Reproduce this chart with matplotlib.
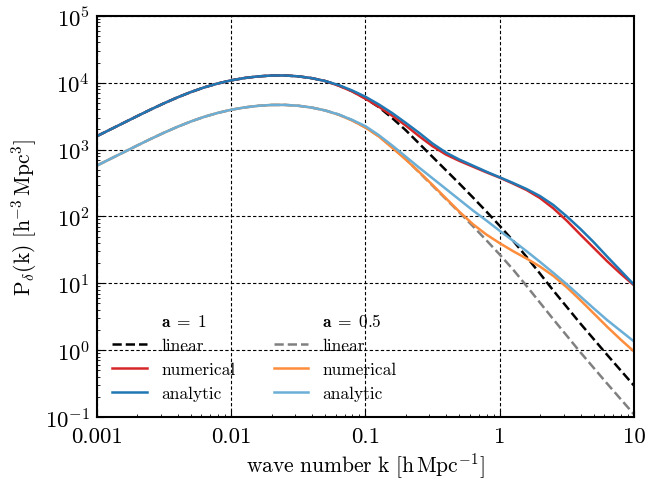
import numpy as np
import matplotlib
matplotlib.use('Agg')
import matplotlib.pyplot as plt
from matplotlib.lines import Line2D
from matplotlib.ticker import LogLocator, FixedLocator, FixedFormatter, NullFormatter

plt.rcParams.update({
    'font.family': 'serif',
    'font.serif': ['cmr10'],
    'mathtext.fontset': 'cm',
    'axes.formatter.use_mathtext': True,
    'axes.unicode_minus': False,
    'font.size': 15,
})

# log10 of wave number k (h/Mpc)
log_k = [-3.0, -2.9, -2.8, -2.7, -2.6, -2.5, -2.4, -2.3, -2.2, -2.1,
         -2.0, -1.9, -1.8, -1.7, -1.6, -1.5, -1.4, -1.3, -1.2, -1.1,
         -1.0, -0.9, -0.8, -0.7, -0.6, -0.5, -0.4, -0.3, -0.2, -0.1,
         0.0, 0.1, 0.2, 0.3, 0.4, 0.5, 0.6, 0.7, 0.8, 0.9, 1.0]

# log10 P(k), a = 1
lin_a1 = [3.200, 3.300, 3.400, 3.500, 3.598, 3.692, 3.780, 3.860, 3.930, 3.988,
          4.035, 4.070, 4.094, 4.107, 4.108, 4.095, 4.068, 4.025, 3.960, 3.875,
          3.765, 3.635, 3.470, 3.290, 3.090, 2.890, 2.690, 2.490, 2.285, 2.075,
          1.860, 1.635, 1.395, 1.145, 0.890, 0.645, 0.400, 0.165, -0.070, -0.300, -0.530]
num_a1 = [3.200, 3.300, 3.400, 3.500, 3.598, 3.692, 3.780, 3.860, 3.930, 3.988,
          4.035, 4.070, 4.094, 4.107, 4.108, 4.095, 4.068, 4.025, 3.955, 3.870,
          3.760, 3.640, 3.505, 3.360, 3.200, 3.050, 2.925, 2.830, 2.745, 2.660,
          2.580, 2.490, 2.395, 2.275, 2.120, 1.935, 1.730, 1.530, 1.330, 1.145, 0.970]
ana_a1 = [3.200, 3.300, 3.400, 3.500, 3.598, 3.692, 3.780, 3.860, 3.930, 3.988,
          4.035, 4.070, 4.094, 4.107, 4.108, 4.095, 4.068, 4.025, 3.965, 3.885,
          3.790, 3.675, 3.545, 3.400, 3.250, 3.090, 2.955, 2.850, 2.760, 2.670,
          2.585, 2.500, 2.410, 2.305, 2.170, 2.000, 1.815, 1.615, 1.400, 1.190, 0.980]

# log10 P(k), a = 0.5
lin_a05 = [2.760, 2.860, 2.960, 3.060, 3.158, 3.252, 3.340, 3.420, 3.490, 3.548,
           3.595, 3.630, 3.654, 3.667, 3.668, 3.655, 3.628, 3.585, 3.525, 3.440,
           3.330, 3.200, 3.040, 2.860, 2.660, 2.460, 2.260, 2.060, 1.855, 1.645,
           1.430, 1.205, 0.960, 0.710, 0.460, 0.215, -0.030, -0.265, -0.500, -0.730, -0.960]
num_a05 = [2.760, 2.860, 2.960, 3.060, 3.158, 3.252, 3.340, 3.420, 3.490, 3.548,
           3.595, 3.630, 3.654, 3.667, 3.668, 3.655, 3.628, 3.585, 3.520, 3.435,
           3.330, 3.195, 3.025, 2.850, 2.665, 2.470, 2.270, 2.070, 1.885, 1.730,
           1.600, 1.480, 1.370, 1.250, 1.110, 0.940, 0.750, 0.550, 0.350, 0.160, -0.020]
ana_a05 = [2.760, 2.860, 2.960, 3.060, 3.158, 3.252, 3.340, 3.420, 3.490, 3.548,
           3.595, 3.630, 3.654, 3.667, 3.668, 3.655, 3.628, 3.585, 3.525, 3.445,
           3.350, 3.215, 3.060, 2.895, 2.730, 2.570, 2.410, 2.250, 2.090, 1.940,
           1.785, 1.635, 1.480, 1.320, 1.155, 0.985, 0.805, 0.625, 0.450, 0.290, 0.130]

k = 10**np.array(log_k)

fig = plt.figure(figsize=(6.59, 4.81), dpi=100)
ax = fig.add_axes([0.147, 0.131, 0.815, 0.834])

lw = 1.8
ax.plot(k, 10**np.array(lin_a1), color='black', ls='--', lw=lw)
ax.plot(k, 10**np.array(num_a1), color='#d62728', lw=lw)
ax.plot(k, 10**np.array(ana_a1), color='#1f77b4', lw=lw)
ax.plot(k, 10**np.array(lin_a05), color='gray', ls='--', lw=lw)
ax.plot(k, 10**np.array(num_a05), color='#fd8d3c', lw=lw)
ax.plot(k, 10**np.array(ana_a05), color='#6baed6', lw=lw)

ax.set_xscale('log')
ax.set_yscale('log')
ax.set_xlim(0.001, 10)
ax.set_ylim(0.1, 1e5)

ax.xaxis.set_major_locator(FixedLocator([0.001, 0.01, 0.1, 1, 10]))
ax.xaxis.set_major_formatter(FixedFormatter(['0.001', '0.01', '0.1', '1', '10']))
ax.xaxis.set_minor_locator(LogLocator(base=10, subs=np.arange(2, 10), numticks=20))
ax.xaxis.set_minor_formatter(NullFormatter())
ax.yaxis.set_major_locator(LogLocator(base=10, numticks=10))
ax.yaxis.set_minor_locator(LogLocator(base=10, subs=np.arange(2, 10), numticks=20))
ax.yaxis.set_minor_formatter(NullFormatter())
ax.tick_params(which='both', direction='in', top=False, right=False)
ax.tick_params(which='major', length=5, labelsize=16.5)
ax.tick_params(axis='x', which='major', pad=7)
ax.tick_params(axis='y', which='major', pad=5)
ax.tick_params(which='minor', length=2.5)

ax.grid(True, which='major', color='black', ls=(0, (3, 2)), lw=0.8)
for sp in ax.spines.values():
    sp.set_linewidth(1.5)

ax.set_xlabel(r'$\mathrm{wave\ number\ k\ [h\,Mpc^{-1}]}$', fontsize=15.5, labelpad=3)
ax.set_ylabel(r'$\mathrm{P_{\delta}(k)\ [h^{-3}\,Mpc^{3}]}$', fontsize=15.5)

blank = Line2D([], [], ls='none')
handles = [blank,
           Line2D([], [], color='black', ls='--', lw=lw),
           Line2D([], [], color='#d62728', lw=lw),
           Line2D([], [], color='#1f77b4', lw=lw),
           blank,
           Line2D([], [], color='gray', ls='--', lw=lw),
           Line2D([], [], color='#fd8d3c', lw=lw),
           Line2D([], [], color='#6baed6', lw=lw)]
labels = [r'$\mathbf{a\;=\;1}$', 'linear', 'numerical', 'analytic',
          r'$\mathbf{a\;=\;0.5}$', 'linear', 'numerical', 'analytic']
ax.legend(handles, labels, ncol=2, loc='lower left', frameon=False,
          fontsize=12.5, columnspacing=2.2)

fig.savefig('out.png', dpi=100)
